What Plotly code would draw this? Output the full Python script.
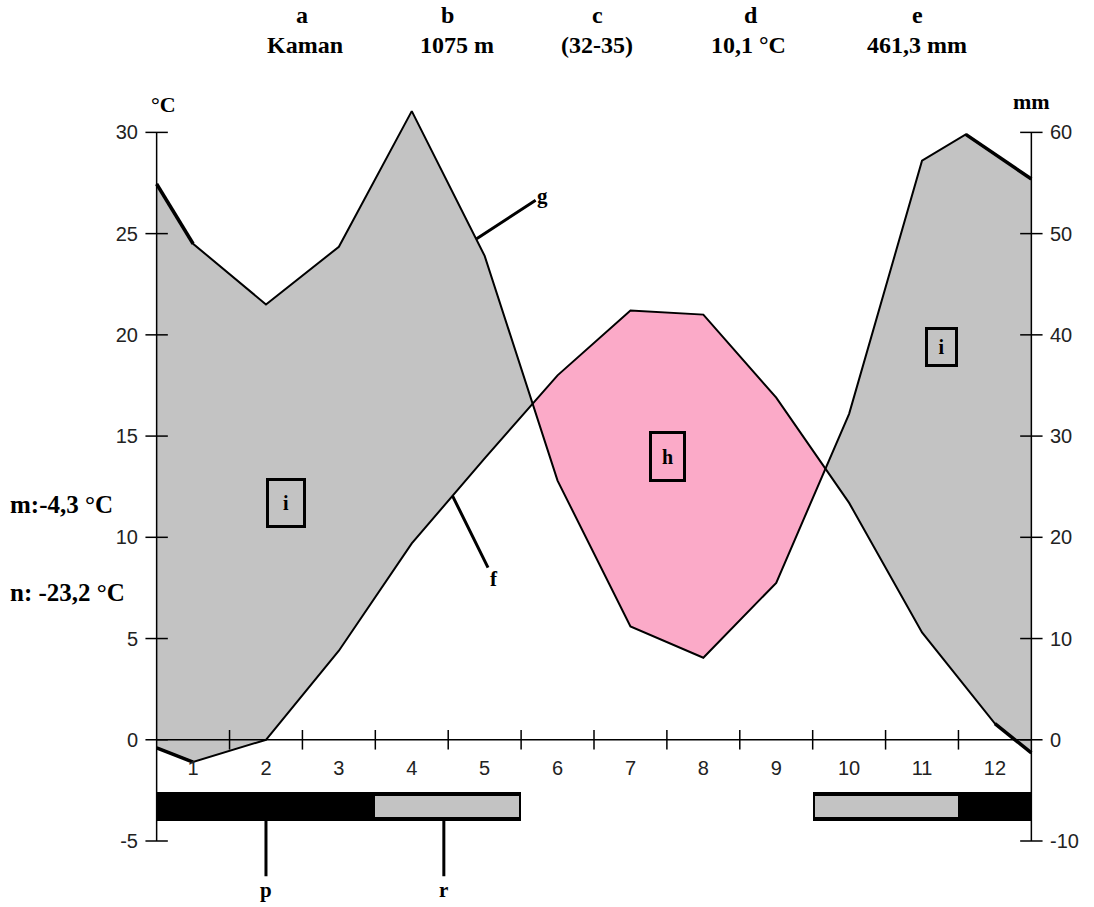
import numpy as np
import plotly.graph_objects as go

# ---------------- data ----------------
month_labels = [str(m) for m in range(1, 13)]
month_centers = list(range(1, 13))
month_bounds = [m + 0.5 for m in range(1, 12)]

# temperature (°C); first/last points are the curve ends at the chart edges
temp_x = [0.5, 1, 2, 3, 4, 5, 6, 7, 8, 9, 10, 11, 12, 12.5]
temp_c = [-0.4, -1.1, 0.0, 4.4, 9.7, 13.9, 18.0, 21.2, 21.0, 16.9, 11.7, 5.3, 0.8, -0.65]

# precipitation (mm)
precip_x = [0.5, 1, 2, 3, 4, 5, 6, 7, 8, 9, 10, 11, 11.6, 12.5]
precip_mm = [54.9, 49.0, 43.0, 48.7, 62.1, 47.8, 25.6, 11.2, 8.1, 15.5, 32.2, 57.2, 59.8, 55.4]

# frost bars: 2 = certain frost (black), 1 = probable frost (grey), 0 = none
frost_code = [2, 2, 2, 1, 1, 0, 0, 0, 0, 1, 1, 2]

temp_ticks = [-5, 0, 5, 10, 15, 20, 25, 30]
temp_tick_text = ["-5", "0", "5", "10", "15", "20", "25", "30"]
precip_ticks = [-10, 0, 10, 20, 30, 40, 50, 60]
precip_tick_text = ["-10", "0", "10", "20", "30", "40", "50", "60"]

header_top = ["a", "b", "c", "d", "e"]
header_bottom = ["Kaman", "1075 m", "(32-35)", "10,1 °C", "461,3 mm"]

# ---------------- layout constants ----------------
W, H = 1094, 907
PL, PR, PT, PB = 153, 1035, 100, 841   # plot area on the screen
XR = [0.45, 12.55]
YR = [-5, 31.6]
Y2R = [-10, 63.2]
GREY = "#c3c3c3"
PINK = "#fbaac8"
SERIF = "Liberation Serif"
SANS = "Liberation Sans"


def px(sx):
    return (sx - PL) / (PR - PL)


def py(sy):
    return (PB - sy) / (PB - PT)


# ---------------- fill polygons between the curves ----------------
p_c = [v / 2 for v in precip_mm]  # precipitation on the °C scale (10 mm = 5 °C)
grid = sorted(set(temp_x) | set(precip_x))
Pg = np.interp(grid, precip_x, p_c)
Tg = np.interp(grid, temp_x, temp_c)

pts = []
for i in range(len(grid)):
    pts.append((grid[i], Pg[i], Tg[i], False))
    if i < len(grid) - 1:
        d0 = Pg[i] - Tg[i]
        d1 = Pg[i + 1] - Tg[i + 1]
        if d0 * d1 < 0:
            t = d0 / (d0 - d1)
            xc = grid[i] + t * (grid[i + 1] - grid[i])
            yc = Tg[i] + t * (Tg[i + 1] - Tg[i])
            pts.append((xc, yc, yc, True))

regions = []
cur = [pts[0]]
for p in pts[1:]:
    cur.append(p)
    if p[3]:
        regions.append(cur)
        cur = [p]
regions.append(cur)

fig = go.Figure()

for reg in regions:
    xs = [float(p[0]) for p in reg]
    ps = [float(p[1]) for p in reg]
    ts = [float(p[2]) for p in reg]
    humid = sum(a - b for a, b in zip(ps, ts)) > 0
    fig.add_trace(go.Scatter(
        x=xs + xs[::-1], y=ps + ts[::-1], fill="toself",
        fillcolor=GREY if humid else PINK, line=dict(width=0),
        mode="lines", hoverinfo="skip", showlegend=False))

# ---------------- curves ----------------
fig.add_trace(go.Scatter(x=temp_x, y=temp_c, mode="lines",
                         line=dict(color="black", width=2), showlegend=False))
fig.add_trace(go.Scatter(x=precip_x, y=precip_mm, mode="lines", yaxis="y2",
                         line=dict(color="black", width=2), showlegend=False))
# thicker end pieces
for xs_, ys_, ax_ in [(temp_x[:2], temp_c[:2], "y"), (temp_x[-2:], temp_c[-2:], "y"),
                      (precip_x[:2], precip_mm[:2], "y2"), (precip_x[-2:], precip_mm[-2:], "y2")]:
    fig.add_trace(go.Scatter(x=xs_, y=ys_, mode="lines", yaxis=ax_,
                             line=dict(color="black", width=3.5), showlegend=False))

# ---------------- frost bars ----------------
black_m = [m for m, c in zip(month_centers, frost_code) if c >= 1]
grey_m = [m for m, c in zip(month_centers, frost_code) if c == 1]
fig.add_trace(go.Bar(x=black_m, y=[1.4] * len(black_m), base=-4.0, width=1,
                     marker=dict(color="black", line=dict(width=0)), showlegend=False))
g_off, g_w = [], []
for m in grey_m:
    left = -0.5 if (m - 1) in grey_m or frost_code[m - 2] == 2 else -0.47
    right = 0.5 if (m + 1) in grey_m or (m < 12 and frost_code[m] == 2) else 0.47
    g_off.append(left)
    g_w.append(right - left)
fig.add_trace(go.Bar(x=grey_m, y=[1.0] * len(grey_m), base=-3.8, width=g_w, offset=g_off,
                     marker=dict(color=GREY, line=dict(width=0)), showlegend=False))

# ---------------- axis lines and ticks drawn as traces ----------------
axis_line = dict(color="black", width=1.5)
fig.add_trace(go.Scatter(x=[XR[0] + 0.05, XR[1] - 0.05], y=[0, 0], mode="lines",
                         line=axis_line, showlegend=False, hoverinfo="skip"))
fig.add_trace(go.Scatter(x=[XR[0] + 0.05] * 2, y=[temp_ticks[0], temp_ticks[-1]], mode="lines",
                         line=axis_line, showlegend=False, hoverinfo="skip"))
fig.add_trace(go.Scatter(x=[XR[1] - 0.05] * 2, y=[precip_ticks[0], precip_ticks[-1]], mode="lines",
                         yaxis="y2", line=axis_line, showlegend=False, hoverinfo="skip"))
fig.add_trace(go.Scatter(x=month_bounds, y=[0] * len(month_bounds), mode="markers",
                         marker=dict(symbol="line-ns", size=14, line=dict(color="black", width=1.5)),
                         cliponaxis=False, showlegend=False, hoverinfo="skip"))
fig.add_trace(go.Scatter(x=[XR[0] + 0.05] * len(temp_ticks), y=temp_ticks, mode="markers",
                         marker=dict(symbol="line-ew", size=16, line=dict(color="black", width=1.5)),
                         cliponaxis=False, showlegend=False, hoverinfo="skip"))
fig.add_trace(go.Scatter(x=[XR[1] - 0.05] * len(precip_ticks), y=precip_ticks, mode="markers",
                         yaxis="y2",
                         marker=dict(symbol="line-ew", size=16, line=dict(color="black", width=1.5)),
                         cliponaxis=False, showlegend=False, hoverinfo="skip"))

# ---------------- annotations ----------------
ann = []
head_x = [302, 447, 597, 751, 917]
head_x2 = [305, 457, 597, 748, 917]
hfont = dict(family=SERIF, size=24, color="black")
for t1, t2, x1, x2 in zip(header_top, header_bottom, head_x, head_x2):
    ann.append(dict(text=f"<b>{t1}</b>", x=px(x1), y=py(15), xref="paper", yref="paper",
                    xanchor="center", yanchor="middle", showarrow=False, font=hfont))
    ann.append(dict(text=f"<b>{t2}</b>", x=px(x2), y=py(45), xref="paper", yref="paper",
                    xanchor="center", yanchor="middle", showarrow=False, font=hfont))

cfont = dict(family=SERIF, size=22, color="black")
ann.append(dict(text="<b>°C</b>", x=px(163), y=py(104), xref="paper", yref="paper",
                xanchor="center", yanchor="middle", showarrow=False, font=cfont))
ann.append(dict(text="<b>mm</b>", x=px(1031), y=py(101), xref="paper", yref="paper",
                xanchor="center", yanchor="middle", showarrow=False, font=cfont))
mfont = dict(family=SERIF, size=25, color="black")
ann.append(dict(text="<b>m:-4,3 °C</b>", x=px(8), y=py(504), xref="paper", yref="paper",
                xanchor="left", yanchor="middle", showarrow=False, font=mfont))
ann.append(dict(text="<b>n: -23,2 °C</b>", x=px(8), y=py(592), xref="paper", yref="paper",
                xanchor="left", yanchor="middle", showarrow=False, font=mfont))

# boxed labels
for txt, cx, cy, w, h in [("i", 286, 503, 34, 44), ("h", 667, 456, 31, 45), ("i", 941, 347, 27, 34)]:
    ann.append(dict(text=f"<b>{txt}</b>", x=px(cx), y=py(cy), xref="paper", yref="paper",
                    xanchor="center", yanchor="middle",
                    showarrow=False, width=w, height=h, borderwidth=3, bordercolor="black",
                    borderpad=0, font=dict(family=SERIF, size=20, color="black")))

# leader labels
leader_font = dict(family=SERIF, size=21, color="black")
ann.append(dict(text="<b>g</b>", x=4.89, y=49.5, xref="x", yref="y2", ax=66, ay=-43,
                showarrow=True, arrowhead=0, arrowwidth=3, arrowcolor="black", font=leader_font))
ann.append(dict(text="<b>f</b>", x=4.559, y=12.05, xref="x", yref="y", ax=41, ay=83,
                showarrow=True, arrowhead=0, arrowwidth=3, arrowcolor="black", font=leader_font))
ann.append(dict(text="<b>p</b>", x=2.0, y=-4.0, xref="x", yref="y", ax=0, ay=69,
                showarrow=True, arrowhead=0, arrowwidth=3, arrowcolor="black", font=leader_font))
ann.append(dict(text="<b>r</b>", x=4.44, y=-4.0, xref="x", yref="y", ax=0, ay=69,
                showarrow=True, arrowhead=0, arrowwidth=3, arrowcolor="black", font=leader_font))

tick_font = dict(family=SANS, size=20, color="#222222")

fig.update_layout(
    width=W, height=H,
    margin=dict(l=PL, r=W - PR, t=PT, b=H - PB, pad=0),
    paper_bgcolor="white", plot_bgcolor="white",
    barmode="overlay", bargap=0,
    showlegend=False,
    annotations=ann,
    xaxis=dict(range=XR, tickvals=month_centers, ticktext=month_labels,
               anchor="free", position=(0 - YR[0]) / (YR[1] - YR[0]), showline=False,
               ticks="", showgrid=False, zeroline=False, tickfont=tick_font,
               ticklabelstandoff=14, fixedrange=True),
    yaxis=dict(range=YR, tickvals=temp_ticks, ticktext=temp_tick_text, showline=False,
               ticks="", showgrid=False, zeroline=False, tickfont=tick_font,
               ticklabelstandoff=14),
    yaxis2=dict(range=Y2R, tickvals=precip_ticks, ticktext=precip_tick_text, overlaying="y",
                side="right", anchor="x", showline=False, ticks="",
                showgrid=False, zeroline=False, tickfont=tick_font, ticklabelstandoff=14),
)

fig.write_html("out.html", config={"displayModeBar": False},
               post_script="document.body.style.margin='0px';")
